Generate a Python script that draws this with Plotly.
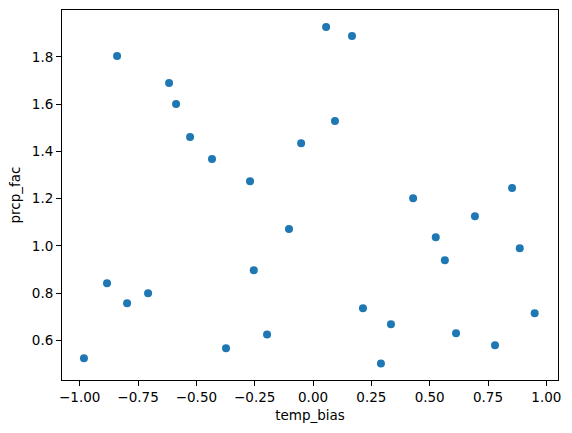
import plotly.graph_objects as go

temp_bias = [-0.840, -0.617, -0.587, -0.527, -0.433, -0.270, -0.051, 0.056, 0.167, 0.094,
             0.429, 0.853, 0.694, -0.103, -0.883, -0.797, -0.707, -0.254, -0.982, -0.373,
             -0.197, 0.526, 0.886, 0.565, 0.214, 0.950, 0.334, 0.613, 0.780, 0.291]
prcp_fac = [1.804, 1.690, 1.601, 1.461, 1.368, 1.274, 1.435, 1.927, 1.889, 1.529,
            1.202, 1.245, 1.126, 1.071, 0.842, 0.757, 0.799, 0.897, 0.524, 0.566,
            0.625, 1.037, 0.990, 0.939, 0.736, 0.715, 0.668, 0.630, 0.579, 0.502]

x_ticks = [-1.0, -0.75, -0.5, -0.25, 0.0, 0.25, 0.5, 0.75, 1.0]
y_ticks = [0.6, 0.8, 1.0, 1.2, 1.4, 1.6, 1.8]

def fmt(v, d):
    s = f"{v:.{d}f}"
    return s.replace("-", "\u2212")

fig = go.Figure(go.Scatter(
    x=temp_bias, y=prcp_fac, mode="markers",
    marker=dict(color="#1f77b4", size=8, line=dict(width=0)),
))

font = dict(family="DejaVu Sans", size=13.5, color="black")
axis_common = dict(showgrid=False, zeroline=False, showline=True, linecolor="black",
                   linewidth=1, mirror=True, ticks="outside", ticklen=5, tickwidth=1,
                   tickcolor="black", tickfont=font, automargin=False)

fig.update_layout(
    width=572, height=433,
    margin=dict(l=62, r=14, t=10, b=53, autoexpand=False),
    plot_bgcolor="white", paper_bgcolor="white",
    showlegend=False,
    font=font,
    xaxis=dict(range=[-1.076, 1.050], tickvals=x_ticks,
               ticktext=[fmt(v, 2) for v in x_ticks],
               title=dict(text="temp_bias", font=font, standoff=6), **axis_common),
    yaxis=dict(range=[0.432, 1.999], tickvals=y_ticks,
               ticktext=[fmt(v, 1) for v in y_ticks],
               title=dict(text="prcp_fac", font=font, standoff=8), **axis_common),
)

fig.write_html("out.html", config={"displayModeBar": False},
               post_script="document.body.style.margin='0';document.body.style.overflow='hidden';")
